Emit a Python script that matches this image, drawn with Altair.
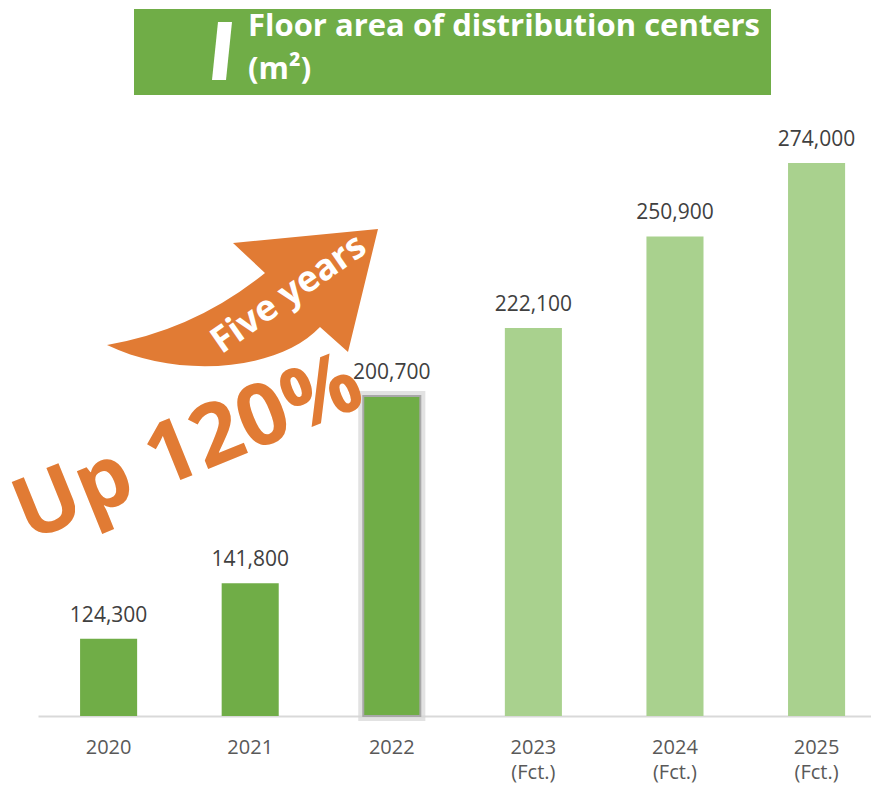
import altair as alt
import pandas as pd

years = ["2020", "2021", "2022", "2023", "2024", "2025"]
values = [124300, 141800, 200700, 222100, 250900, 274000]
status = ["Actual", "Actual", "Actual", "Forecast", "Forecast", "Forecast"]

title_line1 = "Floor area of distribution centers"
title_line2 = "(m²)"
growth_text = "Up 120%"
arrow_text = "Five years"

DARK = "#70ad47"
LIGHT = "#a9d18e"
ORANGE = "#e17b34"
FONT = "Open Sans"

df = pd.DataFrame({"year": years, "value": values, "status": status})
df["label"] = df["value"].map(lambda v: f"{v:,}")

x_enc = alt.X(
    "year:N",
    sort=years,
    scale=alt.Scale(paddingInner=0.597, paddingOuter=0.24, align=0.619),
    axis=alt.Axis(
        title=None,
        labelAngle=0,
        ticks=False,
        domainColor="#d9d9d9",
        domainWidth=2,
        labelFont=FONT,
        labelFontSize=20,
        labelColor="#595959",
        labelPadding=21,
        labelLineHeight=25,
        labelExpr="toNumber(datum.value) >= 2023 ? [datum.value, '(Fct.)'] : datum.value",
    ),
)
y_enc = alt.Y("value:Q", scale=alt.Scale(domain=[100000, 280000], clamp=True, zero=False), axis=None)

base = alt.Chart(df)

glow = base.transform_filter(alt.datum.year == "2022").mark_bar(
    fill="transparent", stroke="#d6d6d6", strokeWidth=10, strokeOpacity=0.7
).encode(x=x_enc, y=y_enc)

bars = base.mark_bar(strokeWidth=2).encode(
    x=x_enc,
    y=y_enc,
    color=alt.Color(
        "status:N",
        scale=alt.Scale(domain=["Actual", "Forecast"], range=[DARK, LIGHT]),
        legend=None,
    ),
    stroke=alt.condition(alt.datum.year == "2022", alt.value("#a8a8a8"), alt.value("transparent")),
)

labels = base.mark_text(
    font=FONT, fontSize=21, color="#404040", baseline="alphabetic", dy=-17
).encode(x=x_enc, y=y_enc, text="label:N")

# title banner
banner = alt.Chart(pd.DataFrame({"k": [1]})).mark_rect(color=DARK).encode(
    x=alt.value(96), x2=alt.value(733), y=alt.value(-135), y2=alt.value(-49)
)
bar_icon = alt.Chart(pd.DataFrame({"k": [1]})).mark_point(
    shape="M -4 -29 L 10 -29 L 4 29 L -10 29 Z",
    size=4, filled=True, color="white", opacity=1, strokeWidth=0,
).encode(x=alt.value(184), y=alt.value(-93))
t1 = alt.Chart(pd.DataFrame({"t": [title_line1]})).mark_text(
    font=FONT, fontSize=31, fontWeight="bold", color="white", align="left", baseline="alphabetic"
).encode(text="t:N", x=alt.value(210), y=alt.value(-108))
t2 = alt.Chart(pd.DataFrame({"t": [title_line2]})).mark_text(
    font=FONT, fontSize=31, fontWeight="bold", color="white", align="left", baseline="alphabetic"
).encode(text="t:N", x=alt.value(210), y=alt.value(-65))

# arrow annotation
arrow = alt.Chart(pd.DataFrame({"k": [1]})).mark_point(
    shape="M -133 55 Q -45 40 25 -17 L -7 -47 L 138 -61 L 108 62 L 80 37 C 40 80 -60 90 -133 55 Z",
    size=4, filled=True, color=ORANGE, opacity=1, strokeWidth=0,
).encode(x=alt.value(202), y=alt.value(146))
arrow_t = alt.Chart(pd.DataFrame({"t": [arrow_text]})).mark_text(
    font=FONT, fontSize=36, fontWeight="bold", color="white", angle=325,
    align="center", baseline="alphabetic",
).encode(text="t:N", x=alt.value(257), y=alt.value(159))
growth = alt.Chart(pd.DataFrame({"t": [growth_text]})).mark_text(
    font=FONT, fontSize=86, fontWeight="bold", color=ORANGE, angle=338,
    align="center", baseline="alphabetic",
).encode(text="t:N", x=alt.value(160), y=alt.value(329))

chart = alt.layer(
    banner, bar_icon, t1, t2, glow, bars, labels, arrow, arrow_t, growth
).properties(
    width=833,
    height=572,
    background="white",
    autosize=alt.AutoSizeParams(type="none"),
    padding={"left": 30, "top": 136, "right": 0, "bottom": 67},
).configure_view(strokeWidth=0)

chart.save("out.html", embed_options={"renderer": "svg", "actions": False})
